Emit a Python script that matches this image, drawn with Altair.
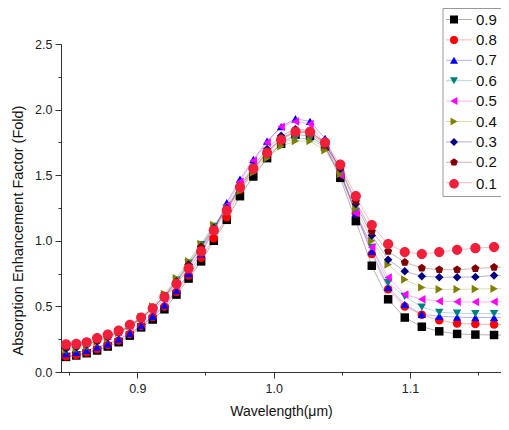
import altair as alt
import pandas as pd

wavelength = [0.8477, 0.8552, 0.8628, 0.8705, 0.8783, 0.8863, 0.8945, 0.9028, 0.9113,
              0.9199, 0.9287, 0.9376, 0.9468, 0.9561, 0.9656, 0.9753, 0.9851, 0.9952,
              1.0055, 1.0160, 1.0267, 1.0377, 1.0489, 1.0603, 1.0720, 1.0840, 1.0962,
              1.1087, 1.1215, 1.1346, 1.1480, 1.1617, 1.1757]

series_names = ["0.9", "0.8", "0.7", "0.6", "0.5", "0.4", "0.3", "0.2", "0.1"]
colors = ["#000000", "#FF0000", "#0000FF", "#008080", "#FF00FF",
          "#808000", "#000080", "#800000", "#F0203A"]
pentagon = "M0,-1L0.951,-0.309L0.588,0.809L-0.588,0.809L-0.951,-0.309Z"
big_circle = "M1.2,0A1.2,1.2,0,1,1,-1.2,0A1.2,1.2,0,1,1,1.2,0Z"
shapes = ["square", "circle", "triangle-up", "triangle-down", "triangle-left",
          "triangle-right", "diamond", pentagon, big_circle]

s09 = [0.115, 0.126, 0.143, 0.164, 0.194, 0.227, 0.277, 0.34, 0.40, 0.478, 0.59, 0.712, 0.843, 1.00, 1.16,
       1.34, 1.49, 1.63, 1.74, 1.81, 1.80, 1.72, 1.48, 1.15, 0.81,
       0.554, 0.415, 0.345, 0.31, 0.29, 0.285, 0.282, 0.28]
s08 = [0.12, 0.13, 0.15, 0.175, 0.205, 0.24, 0.29, 0.35, 0.42, 0.50, 0.61, 0.735, 0.87, 1.02, 1.18,
       1.39, 1.54, 1.67, 1.78, 1.84, 1.83, 1.74, 1.52, 1.21, 0.90,
       0.63, 0.50, 0.436, 0.395, 0.37, 0.365, 0.362, 0.36]
s07 = [0.14, 0.15, 0.165, 0.19, 0.215, 0.25, 0.295, 0.355, 0.425, 0.51, 0.62, 0.75, 0.90, 1.08, 1.29,
       1.47, 1.62, 1.76, 1.87, 1.93, 1.91, 1.78, 1.53, 1.21, 0.92,
       0.645, 0.516, 0.44, 0.425, 0.418, 0.415, 0.415, 0.415]
s06 = [0.16, 0.17, 0.19, 0.22, 0.25, 0.29, 0.34, 0.405, 0.485, 0.58, 0.70, 0.83, 0.97, 1.11, 1.25,
       1.39, 1.53, 1.65, 1.74, 1.78, 1.78, 1.71, 1.51, 1.22, 0.95,
       0.68, 0.576, 0.495, 0.455, 0.448, 0.445, 0.445, 0.445]
s05 = [0.20, 0.21, 0.225, 0.25, 0.275, 0.305, 0.35, 0.405, 0.47, 0.56, 0.665, 0.79, 0.93, 1.09, 1.27,
       1.45, 1.61, 1.75, 1.87, 1.91, 1.89, 1.73, 1.50, 1.21, 0.95,
       0.72, 0.59, 0.555, 0.54, 0.535, 0.533, 0.535, 0.535]
s04 = [0.17, 0.18, 0.20, 0.23, 0.26, 0.30, 0.35, 0.42, 0.50, 0.595, 0.715, 0.845, 0.975, 1.12, 1.24,
       1.38, 1.52, 1.63, 1.72, 1.76, 1.76, 1.69, 1.51, 1.25, 1.00,
       0.82, 0.705, 0.645, 0.63, 0.63, 0.632, 0.635, 0.635]
s03 = [0.18, 0.19, 0.21, 0.235, 0.265, 0.30, 0.35, 0.41, 0.49, 0.58, 0.69, 0.82, 0.955, 1.10, 1.25,
       1.42, 1.57, 1.70, 1.80, 1.85, 1.84, 1.74, 1.55, 1.28, 1.04,
       0.856, 0.768, 0.73, 0.723, 0.723, 0.725, 0.735, 0.74]
s02 = [0.19, 0.20, 0.215, 0.24, 0.27, 0.305, 0.355, 0.41, 0.485, 0.575, 0.685, 0.81, 0.95, 1.09, 1.24,
       1.41, 1.55, 1.68, 1.78, 1.83, 1.82, 1.73, 1.56, 1.30, 1.07,
       0.919, 0.836, 0.793, 0.78, 0.78, 0.788, 0.798, 0.80]
s01 = [0.21, 0.214, 0.227, 0.259, 0.285, 0.315, 0.36, 0.415, 0.486, 0.572, 0.672, 0.788, 0.919, 1.08, 1.23,
       1.41, 1.55, 1.67, 1.77, 1.83, 1.83, 1.75, 1.58, 1.34, 1.12,
       0.975, 0.914, 0.899, 0.914, 0.931, 0.944, 0.952, 0.955]

series_values = [s09, s08, s07, s06, s05, s04, s03, s02, s01]

rows = []
for name, vals in zip(series_names, series_values):
    for x, y in zip(wavelength, vals):
        rows.append({"wl": x, "val": y, "series": name, "lseries": "L" + name})
df = pd.DataFrame(rows)

FONT = "Liberation Sans"

x_major_test = "round(datum.value*100) % 10 == 0"
y_major_test = "datum.value % 0.5 == 0"

x_enc = alt.X(
    "wl:Q",
    scale=alt.Scale(domain=[0.844, 1.1668], nice=False, zero=False),
    axis=alt.Axis(
        title="Wavelength(\u03bcm)",
        values=[0.85, 0.9, 0.95, 1.0, 1.05, 1.1, 1.15],
        labelExpr=f"{x_major_test} ? format(datum.value, '.1f') : ''",
        tickSize={"condition": {"test": x_major_test, "value": 6}, "value": 3},
        labelOverlap=False,
        labelFlush=False,
        labelPadding=4,
        titlePadding=10,
    ),
)
y_enc = alt.Y(
    "val:Q",
    scale=alt.Scale(domain=[0, 2.5], nice=False, zero=True),
    axis=alt.Axis(
        title="Absorption Enhancement Factor (Fold)",
        values=[0, 0.25, 0.5, 0.75, 1.0, 1.25, 1.5, 1.75, 2.0, 2.25, 2.5],
        labelExpr=f"{y_major_test} ? format(datum.value, '.1f') : ''",
        tickSize={"condition": {"test": y_major_test, "value": 6}, "value": 3},
        labelOverlap=False,
        labelFlush=False,
        labelPadding=3,
        titlePadding=9,
        titleY=186,
        titleFontSize=14.5,
    ),
)

legend_common = dict(
    orient="none", legendX=381.5, legendY=-36, title=None,
    labelFontSize=15, padding=4, rowPadding=4.4,
    symbolOffset=0, labelOffset=14.5, labelFont=FONT,
)

lines = alt.Chart(df).mark_line(strokeWidth=1, opacity=0.3, clip=True).encode(
    x=x_enc,
    y=y_enc,
    color=alt.Color(
        "lseries:N",
        scale=alt.Scale(domain=["L" + n for n in series_names], range=colors),
        legend=alt.Legend(
            symbolType="M-1.78,0H4", symbolSize=81, symbolStrokeWidth=1,
            symbolOpacity=0.3, labelExpr="''", **legend_common,
        ),
    ),
)

points = alt.Chart(df).mark_point(filled=True, size=72, opacity=1, clip=True).encode(
    x=x_enc,
    y=y_enc,
    fill=alt.Fill(
        "series:N",
        scale=alt.Scale(domain=series_names, range=colors),
        legend=alt.Legend(
            symbolSize=64, symbolOpacity=1, labelColor="#111",
            strokeColor="#999999", **legend_common,
        ),
    ),
    shape=alt.Shape(
        "series:N",
        scale=alt.Scale(domain=series_names, range=shapes),
        legend=alt.Legend(
            symbolSize=64, symbolOpacity=1, labelColor="#111",
            strokeColor="#999999", **legend_common,
        ),
    ),
)

chart = alt.layer(lines, points).properties(
    width=440, height=328,
    autosize=alt.AutoSizeParams(type="none"),
    padding={"left": 53, "top": 36, "right": 0, "bottom": 50},
).configure_view(
    stroke=None
).configure_axis(
    grid=False,
    domainColor="#333333",
    tickColor="#333333",
    labelColor="#222222",
    titleColor="#111111",
    labelFont=FONT,
    titleFont=FONT,
    labelFontSize=12.5,
    titleFontSize=14,
    titleFontWeight="normal",
).configure_text(font=FONT)

chart.save("out.html", embed_options={"renderer": "svg", "actions": False})
